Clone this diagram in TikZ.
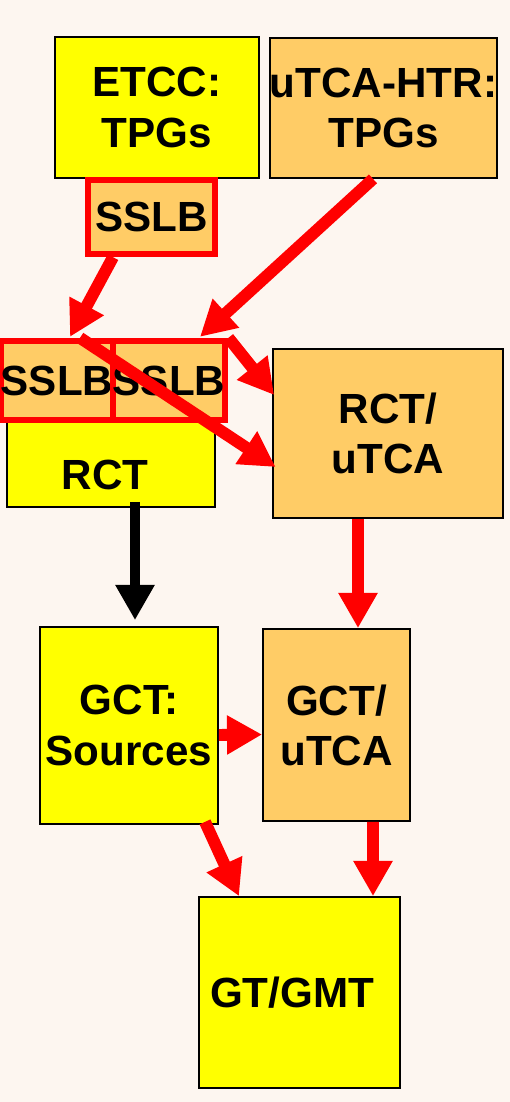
\documentclass[tikz,border=0pt]{standalone}
\usepackage{fontspec}
\setmainfont{Liberation Sans}
\usepackage{xcolor}
\usepackage{tikz}
\usetikzlibrary{arrows.meta,positioning}
\definecolor{boxyellow}{RGB}{255,255,0}
\definecolor{boxorange}{RGB}{255,204,102}
\definecolor{paper}{RGB}{253,246,240}
\tikzset{
	every node/.style={font=\fontsize{24}{28.5}\selectfont\bfseries, align=center},
	box/.style={draw=black, line width=1pt, inner sep=0pt},
	yellowbox/.style={box, fill=boxyellow},
	orangebox/.style={box, fill=boxorange},
	sslbbox/.style={draw=red, line width=3.6pt, fill=boxorange, inner sep=0pt}, % red framed link boards
	redarrow/.style={draw=red, line width=6.8pt, -{Triangle[length=20pt,width=21pt]}, red},
	blackarrow/.style={draw=black, line width=6.2pt, -{Triangle[length=20pt,width=21pt]}},
}

\begin{document}
\begin{tikzpicture}
        \fill[paper] (0,0) rectangle (10.2,-22.04);
        \useasboundingbox (0,0) rectangle (10.2,-22.04);

        \node[yellowbox, minimum width=4.08cm, minimum height=2.82cm] (etcc) at (3.14,-2.15) {ETCC:\\TPGs};
        \node[orangebox, minimum width=4.54cm, minimum height=2.80cm] (htr) at (7.67,-2.16) {uTCA-HTR:\\TPGs};
        \node[sslbbox, minimum width=2.54cm, minimum height=1.48cm] (sslbA) at (3.03,-4.34) {SSLB};

        \node[yellowbox, minimum width=4.16cm, minimum height=3.34cm,
              label={[xshift=-0.12cm, yshift=-1.03cm]center:RCT}] (rct) at (2.22,-8.47) {};
        \node[sslbbox, minimum width=2.0cm, minimum height=1.58cm] (sslbL) at (1.14,-7.61) {SSLB};
        \node[sslbbox, minimum width=2.0cm, minimum height=1.58cm] (sslbR) at (3.38,-7.61) {SSLB};
        \node[orangebox, minimum width=4.6cm, minimum height=3.38cm] (rctu) at (7.76,-8.67) {RCT/\\uTCA};

        \node[yellowbox, minimum width=3.56cm, minimum height=3.94cm] (gcts) at (2.58,-14.51) {GCT:\\Sources};
        \node[orangebox, minimum width=2.94cm, minimum height=3.84cm] (gctu) at (6.73,-14.50) {GCT/\\uTCA};
        \node[yellowbox, minimum width=4.02cm, minimum height=3.82cm] (gt) at (5.99,-19.85) {GT/GMT\hspace{0.3cm}};

        % trigger primitives into the link boards
        \draw[redarrow] ([xshift=-0.77cm]sslbA.south) -- ([xshift=0.26cm, yshift=0.02cm]sslbL.north);
        \draw[redarrow] ([xshift=-0.21cm]htr.south) -- ([xshift=0.62cm, yshift=0.02cm]sslbR.north);
        \draw[redarrow] ([xshift=0.46cm]sslbL.north) -- ([xshift=0.07cm, yshift=-0.67cm]rctu.west);
        \draw[redarrow] (sslbR.north east) -- ([xshift=0.04cm, yshift=0.77cm]rctu.west);

        \draw[blackarrow] ([xshift=0.48cm, yshift=0.12cm]rct.south) -- ([xshift=0.12cm, yshift=0.12cm]gcts.north);
        \draw[redarrow] ([xshift=-0.6cm]rctu.south) -- ([xshift=0.43cm]gctu.north);
        \draw[redarrow] ([yshift=-0.19cm]gcts.east) -- ([yshift=-0.19cm]gctu.west);

        \draw[redarrow] ([xshift=1.52cm, yshift=0.06cm]gcts.south) -- ([xshift=-1.21cm]gt.north);
        \draw[redarrow] ([xshift=0.73cm]gctu.south) -- ([xshift=1.47cm]gt.north);
    \end{tikzpicture}
\end{document}
